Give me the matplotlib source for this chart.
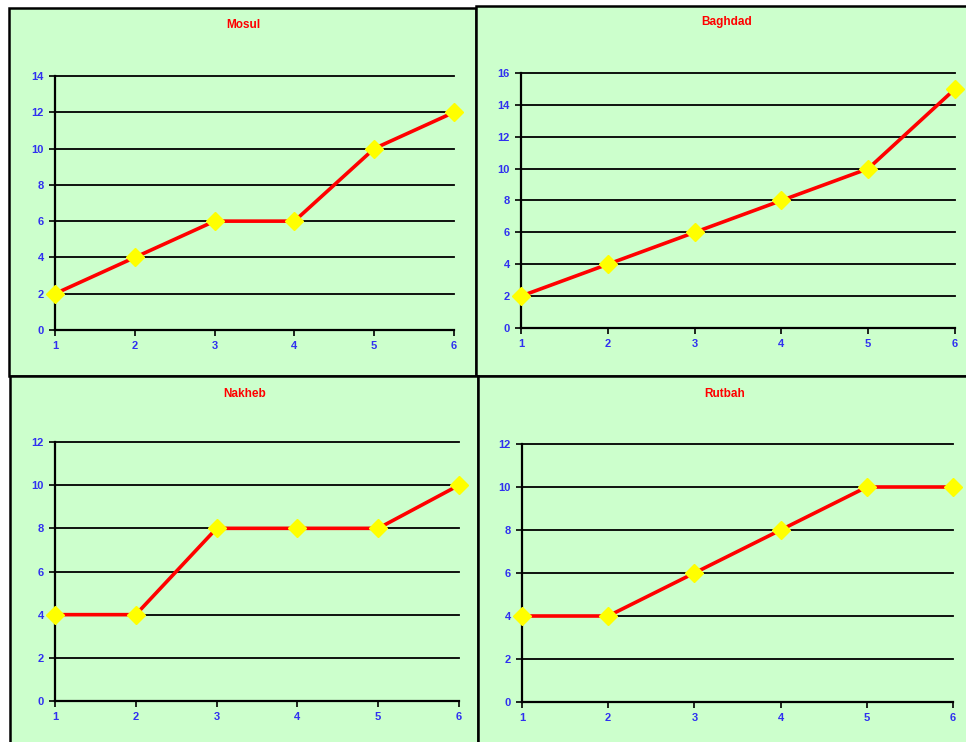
import matplotlib
matplotlib.use("Agg")
import matplotlib.pyplot as plt
from matplotlib.patches import Rectangle

x_values = [1, 2, 3, 4, 5, 6]
stations = ["Mosul", "Baghdad", "Nakheb", "Rutbah"]
mosul = [2, 4, 6, 6, 10, 12]
baghdad = [2, 4, 6, 8, 10, 15]
nakheb = [4, 4, 8, 8, 8, 10]
rutbah = [4, 4, 6, 8, 10, 10]
series = [mosul, baghdad, nakheb, rutbah]
y_max = [14, 16, 12, 12]
y_step = 2

W, H = 966, 742
plt.rcParams['font.family'] = ['Liberation Sans', 'DejaVu Sans']
fig = plt.figure(figsize=(W / 100, H / 100), dpi=100)
fig.patch.set_facecolor('white')

def fx(px):
    return px / W

def fy(py):
    return 1 - py / H

# panel frames (left, top, right, bottom) in pixels
panels = [(9, 8, 476, 376), (476, 6, 968, 376), (10, 376, 478, 745), (478, 376, 968, 745)]
for (l, t, r, b) in panels:
    fig.add_artist(Rectangle((fx(l), fy(b)), fx(r) - fx(l), fy(t) - fy(b),
                             transform=fig.transFigure, facecolor='#CCFFCC',
                             edgecolor='black', linewidth=1.8, zorder=0))

# axes areas (left, top, right, bottom) in pixels
axes_px = [(55, 76, 454, 330), (521, 73, 955, 328), (55, 442, 459, 701), (522, 444, 953, 702)]
title_px = [(243, 25), (727, 22), (245, 394), (725, 394)]

for i, name in enumerate(stations):
    l, t, r, b = axes_px[i]
    ax = fig.add_axes([fx(l), fy(b), fx(r) - fx(l), fy(t) - fy(b)])
    ax.set_facecolor('none')
    ax.plot(x_values, series[i], color='red', lw=2.6, marker='D', ms=9,
            markerfacecolor='#FFFF00', markeredgecolor='#FFFF00', clip_on=False, zorder=3)
    ax.set_xlim(1, 6)
    ax.set_ylim(0, y_max[i])
    ax.set_xticks(x_values)
    ax.set_yticks(list(range(0, y_max[i] + 1, y_step)))
    ax.yaxis.grid(True, color='black', lw=1.3)
    for gl in ax.get_ygridlines():
        gl.set_clip_on(False)
    for s in ['top', 'right']:
        ax.spines[s].set_visible(False)
    for s in ['left', 'bottom']:
        ax.spines[s].set_color('black')
        ax.spines[s].set_linewidth(1.6)
    ax.tick_params(direction='out', length=4, width=1.2, color='black',
                   labelcolor='#3030f0', labelsize=8, pad=4)
    for lab in ax.get_xticklabels() + ax.get_yticklabels():
        lab.set_fontweight('bold')
    tx, ty = title_px[i]
    fig.text(fx(tx), fy(ty), name, color='red', fontsize=8.5, fontweight='bold',
             ha='center', va='center')

fig.savefig('out.png', dpi=100, facecolor='white')
